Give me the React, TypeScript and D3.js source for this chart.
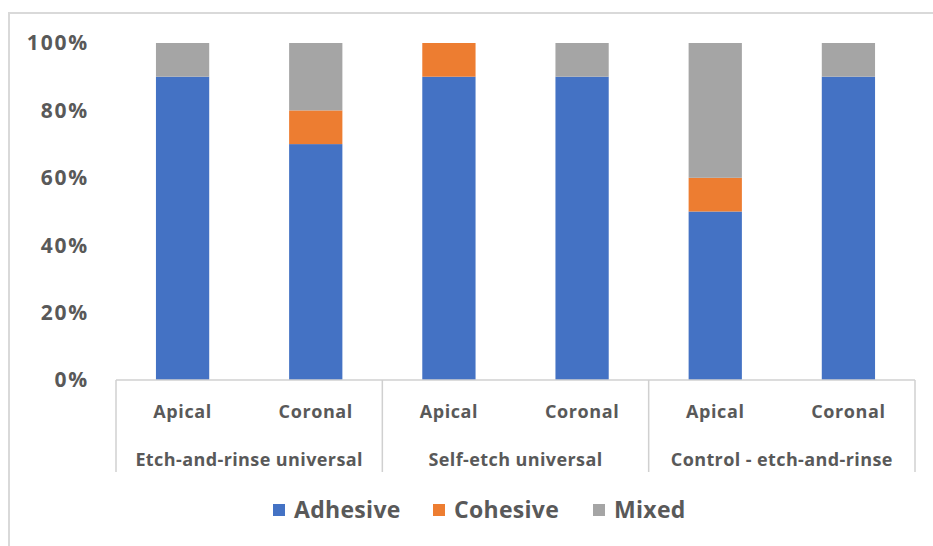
import React from "react";
import * as d3 from "d3";

const groups = ["Etch-and-rinse universal", "Self-etch universal", "Control - etch-and-rinse"];
const positions = ["Apical", "Coronal"];
const seriesNames = ["Adhesive", "Cohesive", "Mixed"];
const adhesive = [90, 70, 90, 90, 50, 90];
const cohesive = [0, 10, 10, 0, 10, 0];
const mixed = [10, 20, 0, 10, 40, 10];
const yTicks = [0, 20, 40, 60, 80, 100];
const colors = ["#4472C4", "#ED7D31", "#A5A5A5"];

const W = 933, H = 546;
const left = 116, right = 915, top = 43, bottom = 380;
const font = "'Open Sans', sans-serif";
const textColor = "#595959";

export default function App() {
  const cats = groups.flatMap((g) => positions.map((p) => `${g}|${p}`));
  const x = d3.scaleBand().domain(cats).range([left, right]).paddingInner(0.6).paddingOuter(0.3);
  const y = d3.scaleLinear().domain([0, 100]).range([bottom, top]);
  const rows = cats.map((c, i) => ({ cat: c, Adhesive: adhesive[i], Cohesive: cohesive[i], Mixed: mixed[i] }));
  const stacked = d3.stack<any>().keys(seriesNames)(rows);
  const groupWidth = (right - left) / groups.length;
  const legendX = [273, 433, 593];

  return (
    <svg width={W} height={H} style={{ position: "absolute", left: 0, top: 0, background: "#fff" }}>
      <rect x={9} y={13} width={W} height={H} fill="#fff" stroke="#d9d9d9" strokeWidth={2} />
      {yTicks.map((t) => (
        <text key={t} x={89} y={y(t)} dy="0.35em" textAnchor="end" fontFamily={font} fontWeight="bold" fontSize={21} letterSpacing={1.8} fill={textColor}>
          {t}%
        </text>
      ))}
      {stacked.map((s, si) =>
        s.map((d, i) => (
          <rect key={`${si}-${i}`} x={x(cats[i])} width={x.bandwidth()} y={y(d[1])} height={Math.max(0, y(d[0]) - y(d[1]))} fill={colors[si]} />
        ))
      )}
      <line x1={left} x2={right} y1={bottom} y2={bottom} stroke="#d0d0d0" strokeWidth={1.5} />
      {d3.range(groups.length + 1).map((i) => (
        <line key={i} x1={left + i * groupWidth} x2={left + i * groupWidth} y1={bottom} y2={472} stroke="#d0d0d0" strokeWidth={1.5} />
      ))}
      {cats.map((c, i) => (
        <text key={c} x={(x(c) as number) + x.bandwidth() / 2} y={412} dy="0.35em" textAnchor="middle" fontFamily={font} fontWeight="bold" fontSize={18} letterSpacing={0.6} fill={textColor}>
          {positions[i % 2]}
        </text>
      ))}
      {groups.map((g, i) => (
        <text key={g} x={left + (i + 0.5) * groupWidth} y={460} dy="0.35em" textAnchor="middle" fontFamily={font} fontWeight="bold" fontSize={18} letterSpacing={0.4} fill={textColor}>
          {g}
        </text>
      ))}
      {seriesNames.map((n, i) => (
        <g key={n} transform={`translate(${legendX[i]},510)`}>
          <rect x={0} y={-6} width={12} height={12} fill={colors[i]} />
          <text x={21} y={0} dy="0.35em" fontFamily={font} fontWeight="bold" fontSize={23} letterSpacing={0.3} fill={textColor}>
            {n}
          </text>
        </g>
      ))}
    </svg>
  );
}
